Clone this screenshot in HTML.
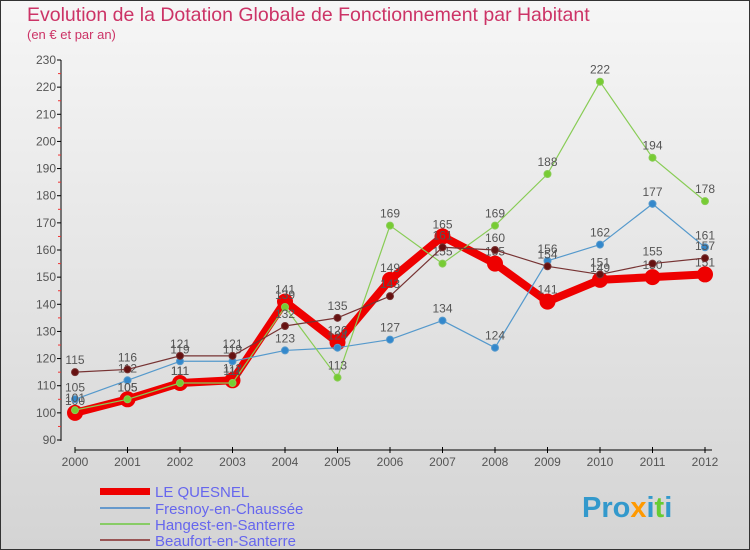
<!DOCTYPE html>
<html><head><meta charset="utf-8"><style>
body{margin:0;width:750px;height:550px;overflow:hidden}
svg{display:block;font-family:"Liberation Sans",sans-serif}
</style></head><body>
<svg id="c" width="750" height="550">
<defs><linearGradient id="bg" x1="0" y1="0" x2="0" y2="1"><stop offset="0" stop-color="#f6f6f6"/><stop offset="1" stop-color="#d4d4d4"/></linearGradient></defs>
<rect x="0.5" y="0.5" width="749" height="549" fill="url(#bg)" stroke="#333"/>
<text x="27" y="21" font-size="19.5" fill="#cc3366">Evolution de la Dotation Globale de Fonctionnement par Habitant</text>
<text x="27" y="39" font-size="13" fill="#cc3366">(en € et par an)</text>
<g id="axes"></g><g id="series"></g>
<g>
<rect x="100" y="488" width="50" height="7" fill="#ee0000"/>
<text x="155" y="497" font-size="15" fill="#6666ee">LE QUESNEL</text>
<rect x="100" y="507" width="50" height="2" fill="#6699cc"/>
<text x="155" y="514" font-size="15" fill="#6666ee">Fresnoy-en-Chaussée</text>
<rect x="100" y="523" width="50" height="2" fill="#88cc66"/>
<text x="155" y="530" font-size="15" fill="#6666ee">Hangest-en-Santerre</text>
<rect x="100" y="539" width="50" height="2" fill="#995555"/>
<text x="155" y="546" font-size="15" fill="#6666ee">Beaufort-en-Santerre</text>
</g>
<text x="582" y="517" font-size="29" font-weight="bold" fill="#3399cc">Pro<tspan fill="#ff9900">x</tspan>i<tspan fill="#66cc33">t</tspan>i</text>
</svg>
<script>
const years=[2000,2001,2002,2003,2004,2005,2006,2007,2008,2009,2010,2011,2012];
const yTicks=[90,100,110,120,130,140,150,160,170,180,190,200,210,220,230];
const leQuesnel=[100,105,111,112,141,126,149,165,155,141,149,150,151];
const fresnoy=[105,112,119,119,123,124,127,134,124,156,162,177,161];
const hangest=[101,105,111,111,139,113,169,155,169,188,222,194,178];
const beaufort=[115,116,121,121,132,135,143,161,160,154,151,155,157];
const NS='http://www.w3.org/2000/svg';
const x=i=>75+i*52.5;
const y=v=>440-(v-90)*380/140;
function mk(tag,attrs,parent){const e=document.createElementNS(NS,tag);for(const k in attrs)e.setAttribute(k,attrs[k]);parent.appendChild(e);return e;}
const ax=document.getElementById('axes'),sg=document.getElementById('series');
let l=mk('line',{x1:61,y1:60,x2:61,y2:441,stroke:'#000'},ax);


yTicks.forEach((v,k)=>{
 const t=mk('line',{x1:57,y1:y(v),x2:61,y2:y(v),stroke:'#000'},ax);
 
 
 if(k>0){
  const m=mk('line',{x1:58,y1:y(v)+13.6,x2:61,y2:y(v)+13.6,stroke:'#e33'},ax);
  
  
 }
 const tx=mk('text',{x:56,y:y(v)+4,'font-size':12,fill:'#555','text-anchor':'end'},ax);
 tx.textContent=v;
 
 
});
l=mk('line',{x1:75,y1:450,x2:712,y2:450,stroke:'#000'},ax);


years.forEach((yr,i)=>{
 const t=mk('line',{x1:x(i),y1:447,x2:x(i),y2:453,stroke:'#000'},ax);
 
 
 const tx=mk('text',{x:x(i),y:466,'font-size':12,fill:'#555','text-anchor':'middle'},ax);
 tx.textContent=yr;
 
 
});
function series(vals,name,color,w,r,dot){
 const g=mk('g',{},sg);
 
 
 const p=mk('polyline',{points:vals.map((v,i)=>x(i)+','+y(v)).join(' '),fill:'none',stroke:color,'stroke-width':w,'stroke-linejoin':'round'},g);
 
 
 vals.forEach((v,i)=>{
  const c=mk('circle',{cx:x(i),cy:y(v),r:r,fill:dot,stroke:color,'stroke-width':1},g);
  
  
  const t=mk('text',{x:x(i),y:y(v)-8,'font-size':12,fill:'#555','text-anchor':'middle'},g);
  t.textContent=v;
  
  
 });
}
series(leQuesnel,'le-quesnel','#ee0000',8,7.5,'#ee0000');
series(fresnoy,'fresnoy','#5599cc',1.2,3.5,'#3388cc');
series(hangest,'hangest','#88cc55',1.2,3.5,'#77cc33');
series(beaufort,'beaufort','#773333',1.2,3.5,'#661111');
</script>
</body></html>
